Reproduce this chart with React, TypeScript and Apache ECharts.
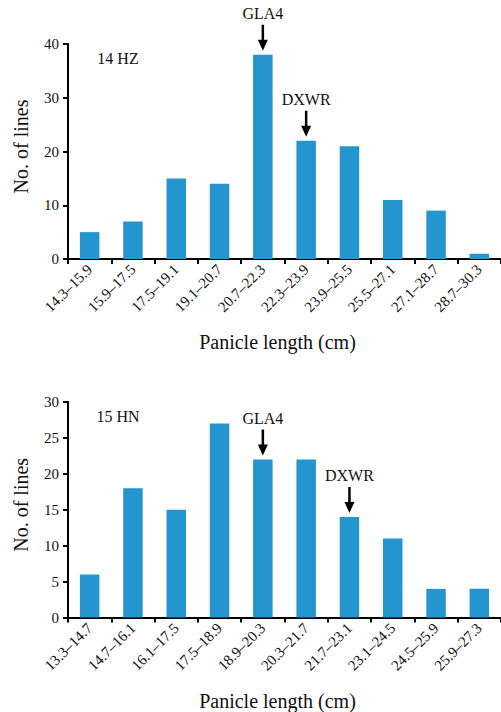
import React, { useEffect, useRef } from "react";
import * as echarts from "echarts";

const catsHZ = ["14.3–15.9", "15.9–17.5", "17.5–19.1", "19.1–20.7", "20.7–22.3", "22.3–23.9", "23.9–25.5", "25.5–27.1", "27.1–28.7", "28.7–30.3"];
const valsHZ = [5, 7, 15, 14, 38, 22, 21, 11, 9, 1];
const catsHN = ["13.3–14.7", "14.7–16.1", "16.1–17.5", "17.5–18.9", "18.9–20.3", "20.3–21.7", "21.7–23.1", "23.1–24.5", "24.5–25.9", "25.9–27.3"];
const valsHN = [6, 18, 15, 27, 22, 22, 14, 11, 4, 4];
const marksHZ = [{ label: "GLA4", index: 4 }, { label: "DXWR", index: 5 }];
const marksHN = [{ label: "GLA4", index: 4 }, { label: "DXWR", index: 6 }];
const panelNames = ["14 HZ", "15 HN"];
const xTitle = "Panicle length (cm)";
const yTitle = "No. of lines";

const FONT = "Liberation Serif";
const BAR = "#2495cf";

export default function App() {
  const ref = useRef<HTMLDivElement>(null);
  useEffect(() => {
    const chart = echarts.init(ref.current!, null, { renderer: "svg" });
    const xAxisBase = (gi: number, cats: string[]) => ({
      type: "category",
      gridIndex: gi,
      data: cats,
      axisLine: { lineStyle: { color: "#000", width: 2 } },
      axisTick: { show: true, length: 5, lineStyle: { color: "#000", width: 2 } },
      axisLabel: { rotate: 45, margin: 8, fontFamily: FONT, fontSize: 15, color: "#111", interval: 0 },
    });
    const yAxisBase = (gi: number, max: number, interval: number) => ({
      type: "value",
      gridIndex: gi,
      min: 0,
      max,
      interval,
      splitLine: { show: false },
      axisLine: { show: true, lineStyle: { color: "#000", width: 2 } },
      axisTick: { show: true, length: 5, lineStyle: { color: "#000", width: 2 } },
      axisLabel: { margin: 9, fontFamily: FONT, fontSize: 15, color: "#111" },
    });
    chart.setOption({
      animation: false,
      textStyle: { fontFamily: FONT },
      grid: [
        { left: 68, right: -4, top: 44, height: 215 },
        { left: 68, right: -4, top: 402, height: 215.6 },
      ],
      xAxis: [xAxisBase(0, catsHZ), xAxisBase(1, catsHN)],
      yAxis: [yAxisBase(0, 40, 10), yAxisBase(1, 30, 5)],
      series: [
        { type: "bar", xAxisIndex: 0, yAxisIndex: 0, data: valsHZ, barWidth: "45%", itemStyle: { color: BAR } },
        { type: "bar", xAxisIndex: 1, yAxisIndex: 1, data: valsHN, barWidth: "45%", itemStyle: { color: BAR } },
      ],
    });

    const graphics: any[] = [];
    const textStyle = (t: string, size: number) => ({
      text: t,
      fontFamily: FONT,
      fontSize: size,
      fill: "#111",
      textAlign: "center",
      textVerticalAlign: "middle",
    });
    const addArrow = (gi: number, idx: number, val: number, label: string) => {
      const p = chart.convertToPixel({ gridIndex: gi }, [idx, val]) as number[];
      const x = p[0];
      const tip = p[1] - 4;
      graphics.push({ type: "line", shape: { x1: x, y1: tip - 26, x2: x, y2: tip - 9 }, style: { stroke: "#000", lineWidth: 2.5 } });
      graphics.push({ type: "polygon", shape: { points: [[x - 5, tip - 11], [x + 5, tip - 11], [x, tip]] }, style: { fill: "#000" } });
      graphics.push({ type: "text", x, y: tip - 26 - 11, style: textStyle(label, 16) });
    };
    marksHZ.forEach((m) => addArrow(0, m.index, valsHZ[m.index], m.label));
    marksHN.forEach((m) => addArrow(1, m.index, valsHN[m.index], m.label));

    const grids = [
      { top: 44, h: 215, axisBottom: 259 },
      { top: 402, h: 215.6, axisBottom: 617.6 },
    ];
    grids.forEach((g, i) => {
      graphics.push({ type: "text", x: 118, y: g.top + 14, style: textStyle(panelNames[i], 16) });
      graphics.push({ type: "text", x: 20.5, y: g.top + g.h / 2 - 5, rotation: Math.PI / 2, style: textStyle(yTitle, 20) });
      graphics.push({ type: "text", x: 277.5, y: g.axisBottom + 83, style: textStyle(xTitle, 20) });
    });
    chart.setOption({ graphic: graphics });
    return () => chart.dispose();
  }, []);
  return <div ref={ref} style={{ position: "fixed", left: 0, top: 0, width: 501, height: 712, background: "#fff" }} />;
}
